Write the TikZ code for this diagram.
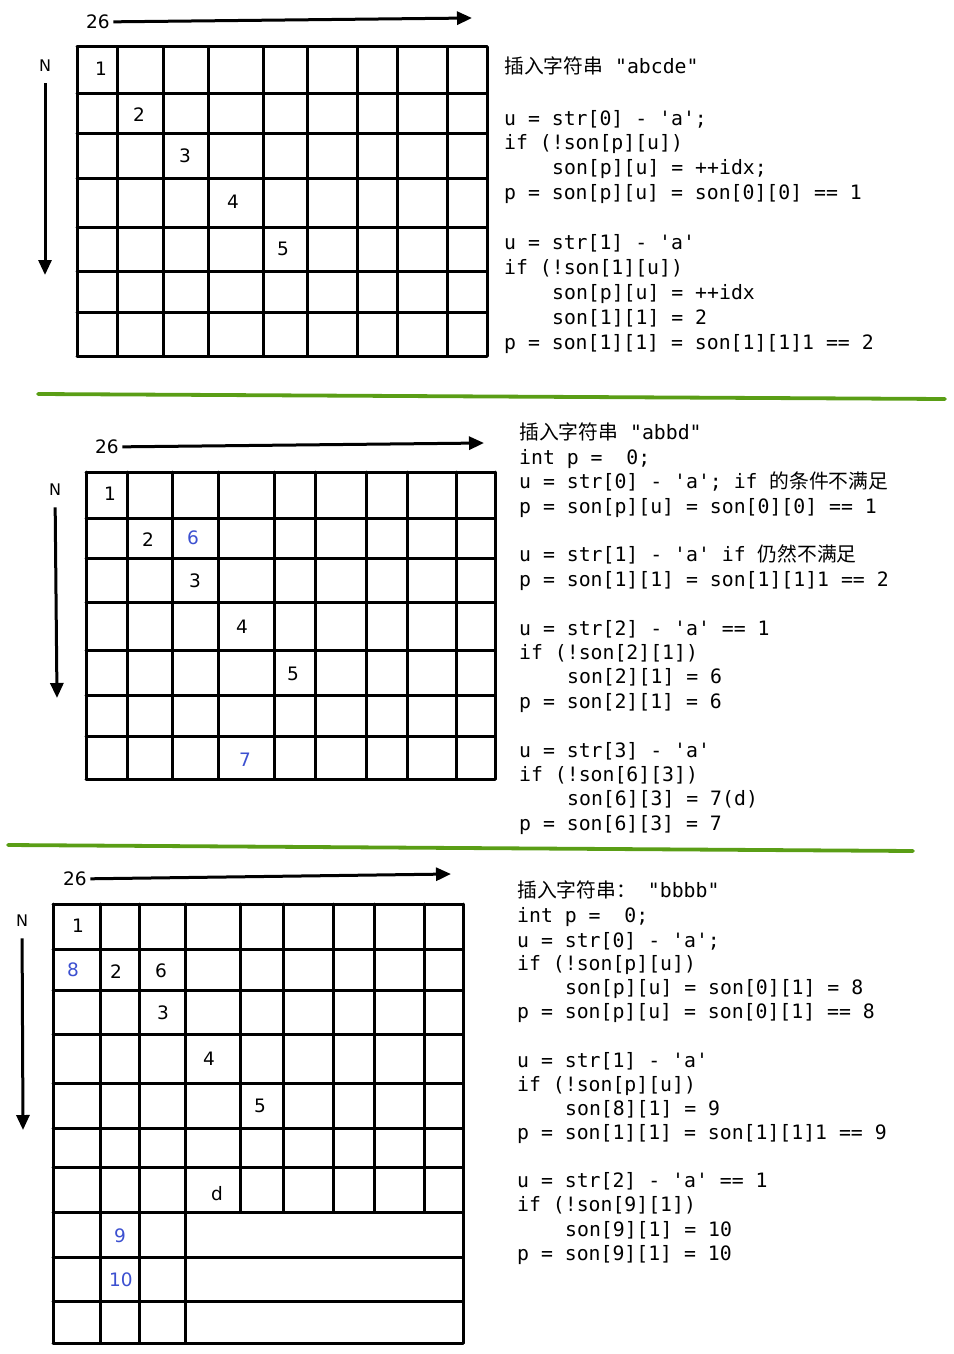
\documentclass[tikz,border=0pt]{standalone}
\usepackage{fontspec}
\setmainfont{DejaVu Sans}
\setsansfont{DejaVu Sans}
\setmonofont{DejaVu Sans Mono}
\newfontfamily\cjk{Noto Sans CJK SC}
\definecolor{trieblue}{HTML}{3C50D0}
\definecolor{sepgreen}{HTML}{5A9E16}
\usetikzlibrary{arrows.meta}
\newcommand{\ind}{\hspace*{48pt}}

\begin{document}
\begin{tikzpicture}[x=1pt, y=-1pt,
    gridline/.style={line width=3pt, line cap=round},
    axis/.style={-{Triangle[length=15pt,width=13pt]}, line width=3pt},
    sepline/.style={draw=sepgreen, line width=3.8pt, line cap=round},
    num/.style={font=\fontsize{18.5}{18}\selectfont},
    newnum/.style={num, text=trieblue},
    lbl/.style={font=\fontsize{18.5}{18}\selectfont},
    nlbl/.style={font=\fontsize{16}{16}\selectfont},
    code/.style={anchor=base west, inner sep=0pt, font=\ttfamily\fontsize{19.8}{24}\selectfont}
  ]
  \useasboundingbox (0,0) rectangle (953,1354);

  % first grid: "abcde"
  \foreach \x in {77,117,163,208,263,307,357,397,447,487}
    \draw[gridline] (\x,47) -- (\x,356);
  \foreach \y in {47,93,133,178,227,271,312,356}
    \draw[gridline] (77,\y) -- (487,\y);
  \node[lbl] (wa) at (98,22) {26};
  \coordinate (wae) at (472,18);
  \draw[axis] (wa) -- (wae);
  \node[nlbl] (na) at (45,66) {N};
  \coordinate (nae) at (45,275);
  \draw[axis, shorten <=8pt] (na) -- (nae);
  \node[num] (a1) at (101,69) {1};
  \node[num] (a2) at (139,115) {2};
  \node[num] (a3) at (185,156) {3};
  \node[num] (a4) at (233,202) {4};
  \node[num] (a5) at (283,249) {5};

  \foreach \y/\t [count=\i] in {
      67/{{\cjk 插入字符串} "abcde"},
      118/{u = str[0] - 'a';},
      142/{if (!son[p][u])},
      167/{\ind son[p][u] = ++idx;},
      192/{p = son[p][u] = son[0][0] == 1},
      242/{u = str[1] - 'a'},
      267/{if (!son[1][u])},
      292/{\ind son[p][u] = ++idx},
      317/{\ind son[1][1] = 2},
      342/{p = son[1][1] = son[1][1]1 == 2}}
    \node[code] (ca\i) at (504,\y+7) {\t};

  \draw[sepline] (38,394) -- (945,399);

  % second grid: "abbd"
  \foreach \x in {86,127,172,218,274,315,366,407,456,495}
    \draw[gridline] (\x,472) -- (\x,779);
  \foreach \y in {472,518,558,602,650,695,736,779}
    \draw[gridline] (86,\y) -- (495,\y);
  \node[lbl] (wb) at (107,447) {26};
  \coordinate (wbe) at (484,443);
  \draw[axis] (wb) -- (wbe);
  \node[nlbl] (nb) at (55,490) {N};
  \coordinate (nbe) at (57,698);
  \draw[axis, shorten <=8pt] (nb) -- (nbe);
  \node[num] (b1) at (110,494) {1};
  \node[num] (b2) at (148,540) {2};
  \node[newnum] (b6) at (193,538) {6};
  \node[num] (b3) at (195,581) {3};
  \node[num] (b4) at (242,627) {4};
  \node[num] (b5) at (293,674) {5};
  \node[newnum] (b7) at (245,760) {7};

  \foreach \y/\t [count=\i] in {
      432/{{\cjk 插入字符串} "abbd"},
      457/{int p =~ 0;},
      481/{u = str[0] - 'a'; if {\cjk 的条件不满足}},
      506/{p = son[p][u] = son[0][0] == 1},
      554/{u = str[1] - 'a' if {\cjk 仍然不满足}},
      579/{p = son[1][1] = son[1][1]1 == 2},
      628/{u = str[2] - 'a' == 1},
      652/{if (!son[2][1])},
      676/{\ind son[2][1] = 6},
      701/{p = son[2][1] = 6},
      750/{u = str[3] - 'a'},
      774/{if (!son[6][3])},
      798/{\ind son[6][3] = 7(d)},
      823/{p = son[6][3] = 7}}
    \node[code] (cb\i) at (519,\y+7) {\t};

  \draw[sepline] (8,845) -- (913,851);

  % third grid: "bbbb"
  \foreach \x in {53,100,139,185,463}
    \draw[gridline] (\x,904) -- (\x,1343);
  \foreach \x in {240,283,333,374,424}
    \draw[gridline] (\x,904) -- (\x,1212);
  \foreach \y in {904,949,990,1034,1083,1128,1167,1212,1257,1301,1343}
    \draw[gridline] (53,\y) -- (463,\y);
  \node[lbl] (wc) at (75,879) {26};
  \coordinate (wce) at (451,874);
  \draw[axis] (wc) -- (wce);
  \node[nlbl] (nc) at (22,921) {N};
  \coordinate (nce) at (23,1130);
  \draw[axis, shorten <=8pt] (nc) -- (nce);
  \node[num] (c1) at (78,926) {1};
  \node[newnum] (c8) at (73,970) {8};
  \node[num] (c2) at (116,972) {2};
  \node[num] (c6) at (161,971) {6};
  \node[num] (c3) at (163,1013) {3};
  \node[num] (c4) at (209,1059) {4};
  \node[num] (c5) at (260,1106) {5};
  \node[num] (cd) at (217,1194) {d};
  \node[newnum] (c9) at (120,1236) {9};
  \node[newnum] (c10) at (121,1280) {10};

  \foreach \y/\t [count=\i] in {
      890/{{\cjk 插入字符串：}~"bbbb"},
      915/{int p =~ 0;},
      940/{u = str[0] - 'a';},
      963/{if (!son[p][u])},
      987/{\ind son[p][u] = son[0][1] = 8},
      1011/{p = son[p][u] = son[0][1] == 8},
      1060/{u = str[1] - 'a'},
      1084/{if (!son[p][u])},
      1108/{\ind son[8][1] = 9},
      1132/{p = son[1][1] = son[1][1]1 == 9},
      1180/{u = str[2] - 'a' == 1},
      1204/{if (!son[9][1])},
      1229/{\ind son[9][1] = 10},
      1253/{p = son[9][1] = 10}}
    \node[code] (cc\i) at (517,\y+7) {\t};
\end{tikzpicture}
\end{document}
